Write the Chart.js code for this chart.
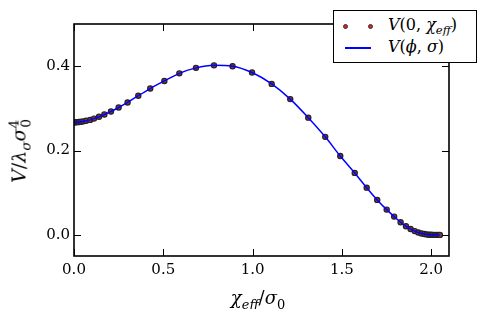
<!DOCTYPE html>
<html>
<head>
<meta charset="utf-8">
<script src="https://cdn.jsdelivr.net/npm/chart.js@4/dist/chart.umd.min.js"></script>
<style>
  html, body { margin:0; padding:0; background:#fff; }
  #wrap { position:relative; width:498px; height:309px; overflow:hidden; }
  #c { position:absolute; left:0; top:0; }
  .math { font-family:"DejaVu Serif", serif; color:#000; white-space:nowrap; line-height:1; }
  .math i { font-style:italic; }
  .math sub, .math sup { font-size:72%; line-height:0; }
  #xtitle { position:absolute; left:258px; top:289px; font-size:18px; transform:translateX(-50%); }
  #ytitle { position:absolute; left:19px; top:147px; font-size:19px; transform:translate(-50%,-50%) rotate(-90deg); }
  #legend { position:absolute; left:333px; top:10px; width:144px; height:53px; box-sizing:border-box; border:1.5px solid #000; background:#fff; }
  .row { position:absolute; left:0; width:100%; height:20px; }
  .dot { position:absolute; width:3px; height:3px; border-radius:50%; background:#e02020; border:1px solid #333; }
  .lline { position:absolute; height:2px; background:#0000ff; }
  .ltxt { position:absolute; left:54px; font-size:16px; }
</style>
</head>
<body>
<div id="wrap">
  <canvas id="c" width="498" height="309"></canvas>
  <div id="ytitle" class="math"><i>V</i>/<i>λ</i><sub><i>σ</i></sub><i>σ</i><sup>4</sup><span style="font-size:72%;position:relative;left:-8px;top:5px;">0</span></div>
  <div id="xtitle" class="math"><i>χ</i><sub><i>eff</i></sub>/<i>σ</i><sub>0</sub></div>
  <div id="legend">
    <div class="row" style="top:5px;">
      <div class="dot" style="left:9px;top:8px;"></div>
      <div class="dot" style="left:34px;top:8px;"></div>
      <div class="ltxt math" style="top:1px;"><i>V</i>(0, <i>χ</i><sub><i>eff</i></sub>)</div>
    </div>
    <div class="row" style="top:27px;">
      <div class="lline" style="left:11px;width:26px;top:9px;"></div>
      <div class="ltxt math" style="top:1px;"><i>V</i>(<i>ϕ</i>, <i>σ</i>)</div>
    </div>
  </div>
</div>
<script>
// ---- data ----
const chiEff = [0, 0.004, 0.010, 0.018, 0.028, 0.040, 0.053, 0.068, 0.090, 0.112, 0.140, 0.170,
  0.207, 0.250, 0.300, 0.360, 0.427, 0.506, 0.590, 0.683, 0.784, 0.888, 0.997, 1.107, 1.211,
  1.312, 1.407, 1.491, 1.572, 1.639, 1.698, 1.751, 1.793, 1.829, 1.859, 1.885, 1.908, 1.928,
  1.946, 1.962, 1.976, 1.989, 2.000, 2.010, 2.020, 2.030, 2.040, 2.049];
const vPoints = [0.267, 0.267, 0.2671, 0.2673, 0.2677, 0.2683, 0.2692, 0.2705, 0.2727, 0.2757,
  0.2800, 0.2855, 0.2925, 0.302, 0.314, 0.330, 0.347, 0.365, 0.383, 0.396, 0.402, 0.400, 0.385,
  0.358, 0.322, 0.278, 0.2325, 0.187, 0.147, 0.112, 0.083, 0.060, 0.0434, 0.030, 0.0204, 0.014,
  0.009, 0.0058, 0.0035, 0.002, 0.0011, 0.0005, 0.0002, 0.0001, 0, 0, 0, 0];
const vLine = vPoints.slice();
const xTicks = [0, 0.5, 1.0, 1.5, 2.0];
const yTicks = [0.0, 0.2, 0.4];

const CA = { left:74, right:449, top:24, bottom:256 };
const tickFont = { family: '"DejaVu Serif", serif', size: 15 };

const framePlugin = {
  id: 'frame',
  afterDatasetsDraw(chart) {
    const ctx = chart.ctx, a = chart.chartArea;
    const xs = chart.scales.x, ys = chart.scales.y;
    ctx.save();
    ctx.strokeStyle = '#000';
    ctx.lineWidth = 1;
    const tl = 7;
    ctx.beginPath();
    xTicks.forEach(v => {
      const px = Math.round(xs.getPixelForValue(v)) + 0.5;
      ctx.moveTo(px, a.bottom); ctx.lineTo(px, a.bottom - tl);
      ctx.moveTo(px, a.top); ctx.lineTo(px, a.top + tl);
    });
    yTicks.forEach(v => {
      const py = Math.round(ys.getPixelForValue(v)) + 0.5;
      ctx.moveTo(a.left, py); ctx.lineTo(a.left + tl, py);
      ctx.moveTo(a.right, py); ctx.lineTo(a.right - tl, py);
    });
    ctx.stroke();
    ctx.lineWidth = 1.6;
    ctx.strokeRect(a.left, a.top, a.right - a.left, a.bottom - a.top);
    ctx.restore();
  }
};

new Chart(document.getElementById('c'), {
  type: 'scatter',
  data: {
    datasets: [
      {
        label: 'V(ϕ, σ)',
        data: chiEff.map((x, i) => ({ x, y: vLine[i] })),
        showLine: true,
        borderColor: '#0000ff',
        borderWidth: 1.5,
        pointRadius: 0,
        cubicInterpolationMode: 'monotone',
        order: 0
      },
      {
        label: 'V(0, χeff)',
        data: chiEff.map((x, i) => ({ x, y: vPoints[i] })),
        showLine: false,
        pointRadius: 2.6,
        pointBackgroundColor: '#8a3535',
        pointBorderColor: '#222',
        pointBorderWidth: 1.2,
        order: 1
      }
    ]
  },
  options: {
    responsive: false,
    animation: false,
    events: [],
    layout: { padding: { left: 0, top: CA.top, right: 498 - CA.right, bottom: 0 } },
    plugins: { legend: { display: false }, tooltip: { enabled: false } },
    scales: {
      x: {
        type: 'linear', min: 0, max: 2.1,
        afterBuildTicks: s => { s.ticks = xTicks.map(v => ({ value: v })); },
        afterFit: s => { s.height = 309 - CA.bottom; },
        grid: { display: false, drawTicks: false },
        border: { display: false },
        ticks: { padding: 5, color: '#000', font: tickFont, callback: v => Number(v).toFixed(1) }
      },
      y: {
        type: 'linear', min: -0.05, max: 0.5,
        afterBuildTicks: s => { s.ticks = yTicks.map(v => ({ value: v })); },
        afterFit: s => { s.width = CA.left; },
        grid: { display: false, drawTicks: false },
        border: { display: false },
        ticks: { padding: 4, color: '#000', font: tickFont, callback: v => Number(v).toFixed(1) }
      }
    }
  },
  plugins: [framePlugin]
});
</script>
</body>
</html>
